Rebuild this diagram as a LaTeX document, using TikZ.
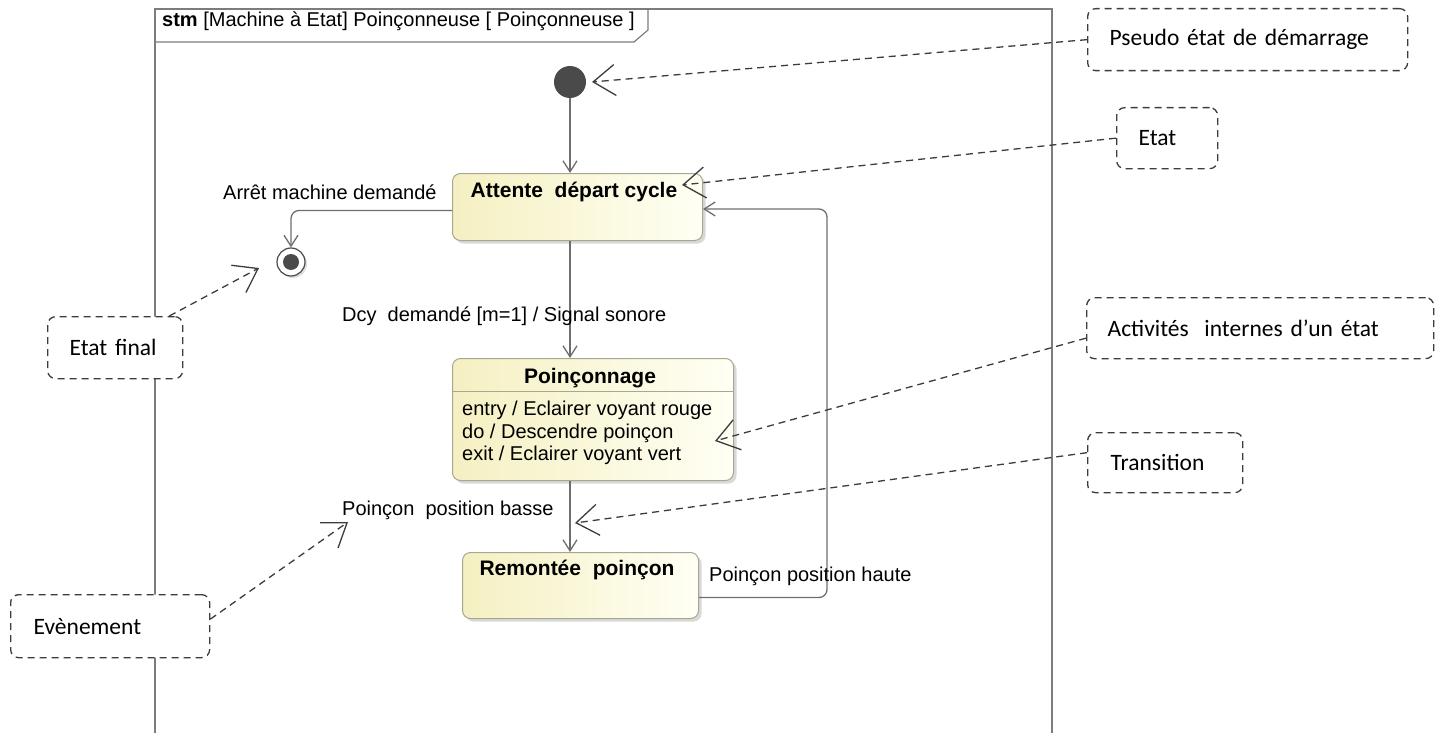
\documentclass[tikz,border=0pt]{standalone}
\usepackage{fontspec}
\setmainfont{Liberation Sans}
\newfontfamily\notefont{Carlito}
\usetikzlibrary{arrows.meta,shadows}
\definecolor{linegray}{HTML}{6E6E6E}
\definecolor{framegray}{HTML}{7C7C7C}
\definecolor{notegray}{HTML}{3C3C3C}
\definecolor{stateborder}{HTML}{A8A890}
\definecolor{stateA}{HTML}{F5F0C2}
\definecolor{stateB}{HTML}{FFFFF4}
\definecolor{dotgray}{HTML}{4A4A4A}
\tikzset{
  diag/.style={font=\fontsize{20}{22.5}\selectfont},
  titlefont/.style={font=\fontsize{21}{24}\selectfont\bfseries},
  plain/.style={anchor=base west, inner sep=0},
  statebox/.style={draw=stateborder, line width=1pt, rounded corners=8,
    left color=stateA, right color=stateB,
    drop shadow={shadow xshift=3pt, shadow yshift=-3pt, opacity=0.3},
    inner sep=0, anchor=north west},
  trans/.style={draw=linegray, line width=1.3pt, rounded corners=8},
  smallhead/.style={-{Straight Barb[length=11pt,width=14pt]}},
  note/.style={draw=notegray, fill=white, dash pattern=on 7pt off 5pt,
    line width=1.3pt, rounded corners=8, anchor=north west, align=left,
    font=\notefont\fontsize{23.5}{28}\selectfont, text=black},
  notelink/.style={draw=notegray, line width=1.3pt, dash pattern=on 7pt off 5pt,
    -{Straight Barb[length=22pt,width=31pt]}},
}
\begin{document}
\begin{tikzpicture}[x=1pt,y=-1pt,diag]
\useasboundingbox (0,0) rectangle (1440,733);

% diagram frame and its name tab
\draw[framegray, line width=1.2pt] (155,733) -- (155,9) -- (1052,9) -- (1052,733);
\draw[framegray, line width=1.2pt] (155,42) -- (634,42) -- (648,30) -- (648,9);
\node[plain] (frametitle) at (162,27) {\textbf{stm} [Machine à Etat] Poinçonneuse [ Poinçonneuse ]};

% pseudo states
\node[circle, fill=dotgray, minimum size=32, inner sep=0] (init) at (570,82) {};
\node[circle, draw=dotgray, fill=white, line width=1.2pt, minimum size=28, inner sep=0,
  drop shadow={shadow xshift=2pt, shadow yshift=-2pt, opacity=0.25},
  path picture={\fill[dotgray] (path picture bounding box.center) circle (8pt);}]
  (final) at (291,262) {};

% states
\node[statebox, minimum width=250, minimum height=67] (attente) at (452,173) {};
\node[titlefont, anchor=base, inner sep=0] (attenteT) at (574,197) {Attente\ \ départ cycle};

\node[statebox, minimum width=281, minimum height=122] (poinc) at (452,358) {};
\node[titlefont, anchor=base, inner sep=0] (poincT) at (590,383) {Poinçonnage};
\draw[stateborder, line width=1pt] (452,391) -- (733,391);
\node[plain] (act1) at (462,415) {entry / Eclairer voyant rouge};
\node[plain] (act2) at (462,438) {do / Descendre poinçon};
\node[plain] (act3) at (462,460) {exit / Eclairer voyant vert};

\node[statebox, minimum width=236, minimum height=66] (remontee) at (462,552) {};
\node[titlefont, anchor=base, inner sep=0] (remonteeT) at (577,575) {Remontée\ \ poinçon};

% transitions
\draw[trans, smallhead] (init) -- (init |- attente.north);
\draw[trans, smallhead] ([yshift=-3.5pt]attente.west) -| (final.north);
\draw[trans, smallhead] (init |- attente.south) -- (init |- poinc.north);
\draw[trans, smallhead] (init |- poinc.south) -- (init |- remontee.north);
\coordinate (retcorner) at (827,209);
\draw[trans, smallhead] ([yshift=-12pt]remontee.east) -| (retcorner) -- (retcorner -| attente.east);

% transition labels
\node[plain] (lblstop) at (223,199) {Arrêt machine demandé};
\node[plain] (lbldcy) at (342,321) {Dcy\ \ demandé [m=1] / Signal sonore};
\node[plain] (lblbas) at (342,515) {Poinçon\ \ position basse};
\node[plain] (lblhaut) at (709,581) {Poinçon position haute};

% explanatory notes
\node[note, minimum height=62, inner xsep=22, text width=276] (npseudo) at (1087,8) {Pseudo état de démarrage};
\node[note, minimum height=61, inner xsep=22, text width=57] (netat) at (1116,107) {Etat};
\node[note, minimum height=61, inner xsep=21, text width=305] (nact) at (1086,297) {Activités\ \ internes d’un état};
\node[note, minimum height=60, inner xsep=23, text width=109] (ntrans) at (1087,432) {Transition};
\node[note, minimum height=62, inner xsep=22, text width=91] (nfinal) at (47,316) {Etat final};
\node[note, minimum height=63, inner xsep=23, text width=153] (nevt) at (10,594) {Evènement};

% note pointers
\coordinate (tipinit) at (592,82);
\coordinate (tipetat) at (682,185);
\coordinate (tipact) at (715,441);
\coordinate (tiptrans) at (575,523);
\coordinate (tipfinal) at (259,268);
\coordinate (tipevt) at (348,522);
\draw[notelink] (npseudo.west) -- (tipinit);
\draw[notelink] (netat.west) -- (tipetat);
\draw[notelink] ([yshift=-10pt]nact.west) -- (tipact);
\draw[notelink] ([yshift=10pt]ntrans.west) -- (tiptrans);
\draw[notelink] ([xshift=-14pt]nfinal.north east) -- (tipfinal);
\draw[notelink] ([yshift=7pt]nevt.east) -- (tipevt);
\end{tikzpicture}
\end{document}
